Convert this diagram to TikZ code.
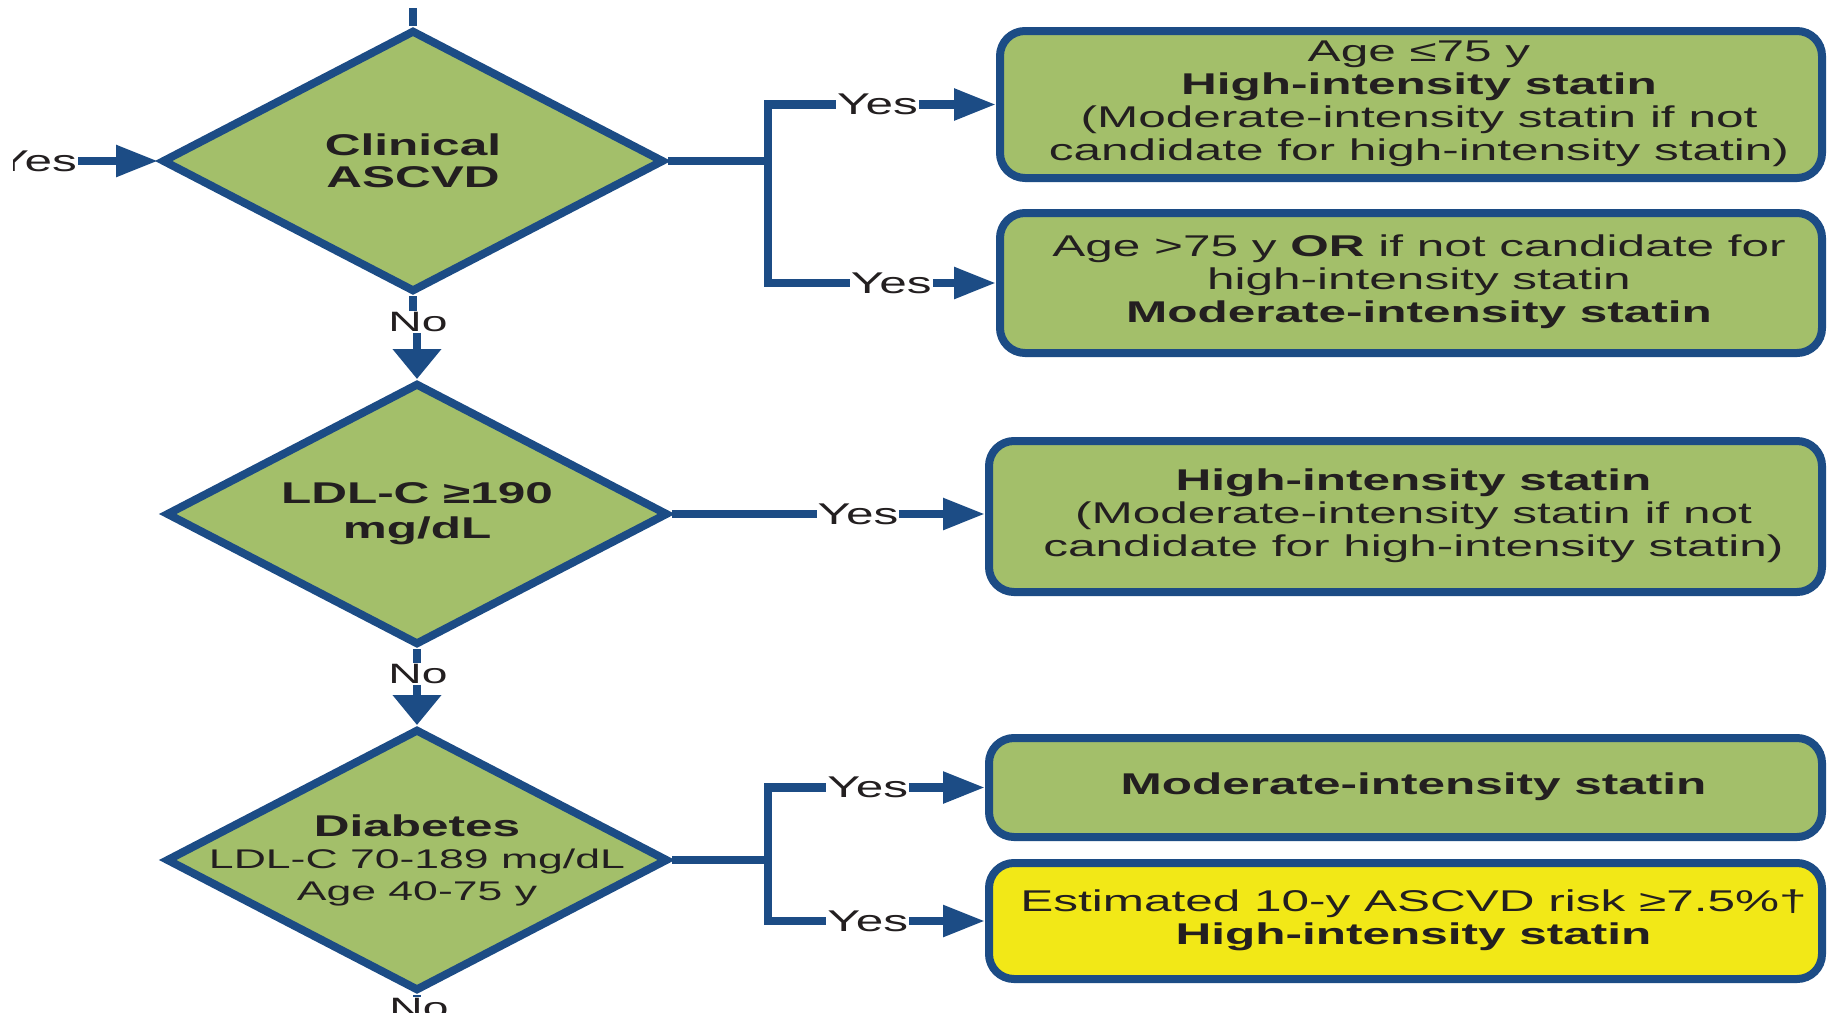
\documentclass[tikz,border=0pt]{standalone}
\usepackage{fontspec}
\setmainfont{Liberation Sans}[FakeStretch=1.65]
\usetikzlibrary{shapes.geometric,arrows.meta}
\definecolor{gfill}{HTML}{A3BF6A}
\definecolor{bblue}{HTML}{1C4C85}
\definecolor{yfill}{HTML}{F2E817}
\definecolor{txt}{HTML}{231F20}
\newcommand{\boxtxt}[1]{\begin{tabular}{@{\hspace{16pt}}c@{}}#1\end{tabular}}
\tikzset{
  dia/.style={diamond, draw=bblue, line width=8pt, fill=gfill, text=txt, align=center,
    inner xsep=-60pt, inner ysep=-30pt, minimum width=502pt, minimum height=262pt, aspect=1.92,
    font=\fontsize{30}{32}\selectfont},
  rbox/.style={rectangle, rounded corners=25pt, draw=bblue, line width=8pt, fill=gfill,
    text=txt, inner sep=0pt, font=\fontsize{30}{33}\selectfont},
  lbl/.style={fill=white, text=txt, inner sep=1pt, font=\fontsize{30}{33}\selectfont},
  nolbl/.style={fill=white, text=txt, inner sep=1pt, font=\fontsize{28}{30}\selectfont},
  conn/.style={draw=bblue, line width=8.5pt},
  arr/.style={conn, -{Triangle[length=42pt,width=30pt]}},
  varr/.style={conn, -{Triangle[length=30pt,width=47pt]}},
}
\begin{document}
\begin{tikzpicture}[x=1pt,y=-1pt]
\useasboundingbox[fill=white] (0,0) rectangle (1828,1012);

% decisions
\node[dia] (d1) at (413,161) {\textbf{Clinical}\\\textbf{ASCVD}};
\node[dia, font=\fontsize{30}{35}\selectfont] (d2) at (417,514) {\textbf{LDL-C ≥190}\\\textbf{mg/dL}};
\node[dia] (d3) at (417,860) {\textbf{Diabetes}\\{\fontsize{27}{31}\selectfont LDL-C 70-189 mg/dL}\\{\fontsize{27}{31}\selectfont Age 40-75 y}};

% outcome boxes
\node[rbox, minimum width=822pt, minimum height=147pt] (b1) at (1411,104.5)
  {\boxtxt{Age ≤75 y\\\textbf{High-intensity statin}\\(Moderate-intensity statin if not\\candidate for high-intensity statin)}};
\node[rbox, minimum width=822pt, minimum height=140pt] (b2) at (1411,283)
  {\boxtxt{Age >75 y \textbf{OR} if not candidate for\\high-intensity statin\\\textbf{Moderate-intensity statin}}};
\node[rbox, minimum width=833pt, minimum height=151pt] (b3) at (1405.5,516.5)
  {\boxtxt{\textbf{High-intensity statin}\\(Moderate-intensity statin if not\\candidate for high-intensity statin)}};
\node[rbox, minimum width=833pt, minimum height=99pt] (b4) at (1405.5,787.5)
  {\boxtxt{\textbf{Moderate-intensity statin}}};
\node[rbox, fill=yfill, minimum width=833pt, minimum height=116pt] (b5) at (1405.5,921)
  {\boxtxt{Estimated 10-y ASCVD risk ≥7.5\%†\\\textbf{High-intensity statin}}};

% incoming
\coordinate (top) at (413,8);
\draw[conn] (top) -- (d1.north);
\begin{scope}
\clip (13,100) rectangle (200,230);
\node[lbl, anchor=east] (yin) at (78,161) {Yes};
\end{scope}
\draw[arr] (yin.east) -- (d1.west);

% branches of d1
\coordinate (j1) at (768,161);
\draw[conn] (d1.east) -- (j1);
\draw[arr] (j1) |- node[lbl, pos=0.74] {Yes} (b1.west);
\draw[arr] (j1) |- node[lbl, pos=0.77] {Yes} (b2.west);

% d1 -> d2
\node[nolbl] (no1) at (418,322) {No};
\draw[conn] (d1.south) -- (d1.south |- no1.north);
\draw[varr] (d2.north |- no1.south) -- (d2.north);

% d2 -> b3
\draw[arr] (d2.east) -- (d2.east -| b3.west);
\node[lbl] (y3) at (858,514) {Yes};

% d2 -> d3
\node[nolbl] (no2) at (418,674) {No};
\draw[conn] (d2.south) -- (d2.south |- no2.north);
\draw[varr] (d3.north |- no2.south) -- (d3.north);

% branches of d3
\coordinate (j3) at (768,860);
\draw[conn] (d3.east) -- (j3);
\draw[arr] (j3) |- node[lbl, pos=0.73] {Yes} (b4.west);
\draw[arr] (j3) |- node[lbl, pos=0.73] {Yes} (b5.west);

% bottom
\node[nolbl] (no3) at (419,1008) {No};
\draw[conn] (d3.south) -- (d3.south |- no3.north);
\end{tikzpicture}
\end{document}
